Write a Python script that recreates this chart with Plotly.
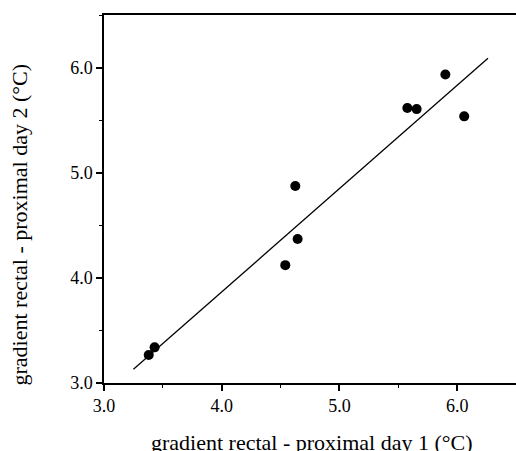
import plotly.graph_objects as go

# data
day1 = [3.38, 3.43, 4.54, 4.645, 4.625, 5.577, 5.656, 5.90, 6.06]
day2 = [3.266, 3.339, 4.121, 4.370, 4.874, 5.615, 5.605, 5.934, 5.536]
fit_x = [3.25, 6.262]
fit_y = [3.13, 6.089]
tick_vals = [3.0, 4.0, 5.0, 6.0]
tick_text = ["3.0", "4.0", "5.0", "6.0"]

W, H = 516, 451
L, R, T, B = 104, 0, 15, 68
pw, ph = W - L - R, H - T - B

fig = go.Figure()
fig.add_trace(go.Scatter(x=fit_x, y=fit_y, mode="lines",
                         line=dict(color="black", width=1.3), showlegend=False))
fig.add_trace(go.Scatter(x=day1, y=day2, mode="markers",
                         marker=dict(color="black", size=10), showlegend=False))

font_t = dict(family="Liberation Serif", size=18, color="black")
axis_common = dict(showgrid=False, zeroline=False, showline=True, linecolor="black",
                   linewidth=1.5, ticks="outside", ticklen=6, tickwidth=1.5,
                   tickcolor="black", tickvals=tick_vals, ticktext=tick_text,
                   tickfont=font_t, automargin=False,
                   minor=dict(ticks="outside", ticklen=3, tickwidth=1, tickcolor="black",
                              dtick=0.5, showgrid=False))

fig.update_xaxes(range=[3.0, 6.5], mirror=True, **axis_common)
fig.update_yaxes(range=[3.0, 6.5], mirror=False, **axis_common)

title_font = dict(family="Liberation Serif", size=22, color="black")
fig.add_annotation(text="gradient rectal - proximal day 1 (°C)", xref="paper", yref="paper",
                   x=(312 - L) / pw, y=(H - B - 442) / ph, xanchor="center", yanchor="middle",
                   showarrow=False, font=title_font)
fig.add_annotation(text="gradient rectal - proximal day 2 (°C)", xref="paper", yref="paper",
                   x=(19 - L) / pw, y=(H - B - 224.5) / ph, xanchor="center", yanchor="middle",
                   textangle=-90, showarrow=False, font=title_font)

fig.update_layout(width=W, height=H, margin=dict(l=L, r=R, t=T, b=B),
                  plot_bgcolor="white", paper_bgcolor="white")
fig.write_html("out.html", config={"displayModeBar": False},
               post_script="document.body.style.margin='0';document.body.style.overflow='hidden';")
